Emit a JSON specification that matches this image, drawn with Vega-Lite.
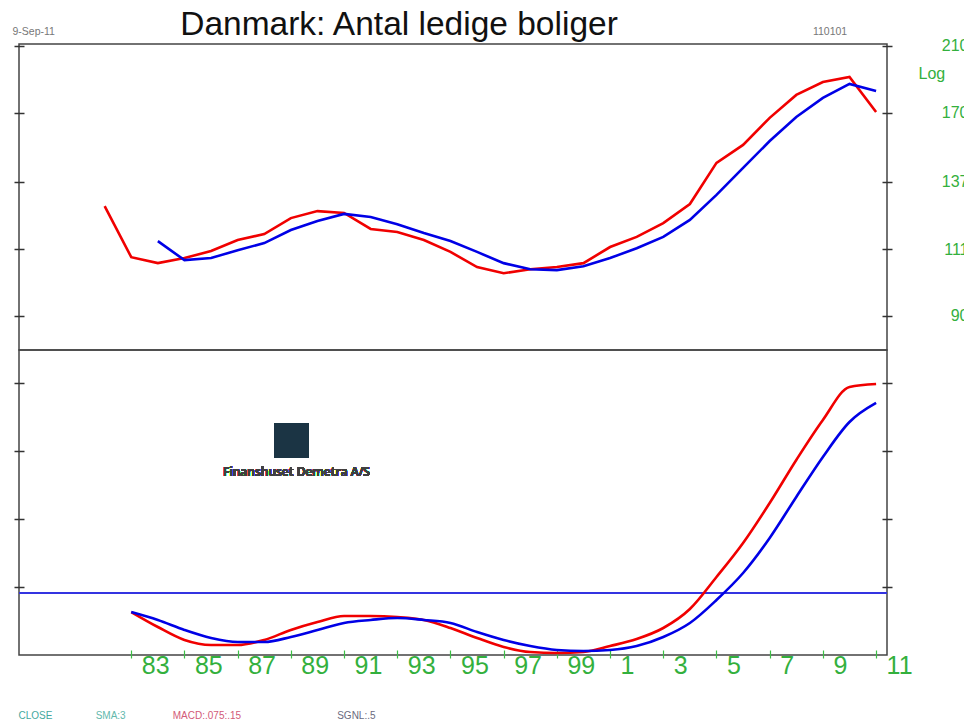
{
  "$schema": "https://vega.github.io/schema/vega-lite/v6.json",
  "padding": {"left": 11, "top": 6, "right": 0, "bottom": 0},
  "background": "white",
  "config": {
    "view": {"stroke": "#444", "strokeWidth": 1.5},
    "font": "Liberation Sans",
    "axis": {"grid": false, "domain": false, "labelFlush": false, "labelOverlap": false, "labelBound": false}
  },
  "datasets": {
    "top": [
      {"year": 1982, "s": "CLOSE", "v": 127.0}, {"year": 1983, "s": "CLOSE", "v": 108.2}, {"year": 1984, "s": "CLOSE", "v": 106.2},
      {"year": 1985, "s": "CLOSE", "v": 107.9}, {"year": 1986, "s": "CLOSE", "v": 110.3}, {"year": 1987, "s": "CLOSE", "v": 114.2},
      {"year": 1988, "s": "CLOSE", "v": 116.3}, {"year": 1989, "s": "CLOSE", "v": 122.3}, {"year": 1990, "s": "CLOSE", "v": 125.0},
      {"year": 1991, "s": "CLOSE", "v": 124.3}, {"year": 1992, "s": "CLOSE", "v": 118.2}, {"year": 1993, "s": "CLOSE", "v": 117.1},
      {"year": 1994, "s": "CLOSE", "v": 114.2}, {"year": 1995, "s": "CLOSE", "v": 110.0}, {"year": 1996, "s": "CLOSE", "v": 104.9},
      {"year": 1997, "s": "CLOSE", "v": 102.9}, {"year": 1998, "s": "CLOSE", "v": 104.2}, {"year": 1999, "s": "CLOSE", "v": 104.9},
      {"year": 2000, "s": "CLOSE", "v": 106.2}, {"year": 2001, "s": "CLOSE", "v": 111.7}, {"year": 2002, "s": "CLOSE", "v": 115.3},
      {"year": 2003, "s": "CLOSE", "v": 120.4}, {"year": 2004, "s": "CLOSE", "v": 127.8}, {"year": 2005, "s": "CLOSE", "v": 145.4},
      {"year": 2006, "s": "CLOSE", "v": 153.8}, {"year": 2007, "s": "CLOSE", "v": 167.4}, {"year": 2008, "s": "CLOSE", "v": 179.9},
      {"year": 2009, "s": "CLOSE", "v": 187.3}, {"year": 2010, "s": "CLOSE", "v": 190.3}, {"year": 2011, "s": "CLOSE", "v": 170.5},
      {"year": 1984, "s": "SMA", "v": 113.8}, {"year": 1985, "s": "SMA", "v": 107.2}, {"year": 1986, "s": "SMA", "v": 107.9},
      {"year": 1987, "s": "SMA", "v": 110.6}, {"year": 1988, "s": "SMA", "v": 113.1}, {"year": 1989, "s": "SMA", "v": 117.8},
      {"year": 1990, "s": "SMA", "v": 121.2}, {"year": 1991, "s": "SMA", "v": 123.9}, {"year": 1992, "s": "SMA", "v": 122.7},
      {"year": 1993, "s": "SMA", "v": 120.0}, {"year": 1994, "s": "SMA", "v": 116.7}, {"year": 1995, "s": "SMA", "v": 113.8},
      {"year": 1996, "s": "SMA", "v": 110.0}, {"year": 1997, "s": "SMA", "v": 106.2}, {"year": 1998, "s": "SMA", "v": 104.2},
      {"year": 1999, "s": "SMA", "v": 103.9}, {"year": 2000, "s": "SMA", "v": 105.2}, {"year": 2001, "s": "SMA", "v": 107.9},
      {"year": 2002, "s": "SMA", "v": 111.3}, {"year": 2003, "s": "SMA", "v": 115.3}, {"year": 2004, "s": "SMA", "v": 121.6},
      {"year": 2005, "s": "SMA", "v": 131.5}, {"year": 2006, "s": "SMA", "v": 143.1}, {"year": 2007, "s": "SMA", "v": 155.7},
      {"year": 2008, "s": "SMA", "v": 167.9}, {"year": 2009, "s": "SMA", "v": 178.2}, {"year": 2010, "s": "SMA", "v": 186.2},
      {"year": 2011, "s": "SMA", "v": 182.1}
    ],
    "bottom": [
      {"year": 1983, "s": "MACD", "v": 0.632}, {"year": 1984, "s": "MACD", "v": 0.412}, {"year": 1985, "s": "MACD", "v": 0.221},
      {"year": 1986, "s": "MACD", "v": 0.147}, {"year": 1987, "s": "MACD", "v": 0.147}, {"year": 1988, "s": "MACD", "v": 0.221},
      {"year": 1989, "s": "MACD", "v": 0.368}, {"year": 1990, "s": "MACD", "v": 0.485}, {"year": 1991, "s": "MACD", "v": 0.574},
      {"year": 1992, "s": "MACD", "v": 0.574}, {"year": 1993, "s": "MACD", "v": 0.559}, {"year": 1994, "s": "MACD", "v": 0.515},
      {"year": 1995, "s": "MACD", "v": 0.397}, {"year": 1996, "s": "MACD", "v": 0.25}, {"year": 1997, "s": "MACD", "v": 0.118},
      {"year": 1998, "s": "MACD", "v": 0.044}, {"year": 1999, "s": "MACD", "v": 0.029}, {"year": 2000, "s": "MACD", "v": 0.044},
      {"year": 2001, "s": "MACD", "v": 0.132}, {"year": 2002, "s": "MACD", "v": 0.235}, {"year": 2003, "s": "MACD", "v": 0.397},
      {"year": 2004, "s": "MACD", "v": 0.676}, {"year": 2005, "s": "MACD", "v": 1.147}, {"year": 2006, "s": "MACD", "v": 1.647},
      {"year": 2007, "s": "MACD", "v": 2.235}, {"year": 2008, "s": "MACD", "v": 2.868}, {"year": 2009, "s": "MACD", "v": 3.456},
      {"year": 2010, "s": "MACD", "v": 3.941}, {"year": 2011, "s": "MACD", "v": 3.985},
      {"year": 1983, "s": "SGNL", "v": 0.632}, {"year": 1984, "s": "SGNL", "v": 0.515}, {"year": 1985, "s": "SGNL", "v": 0.368},
      {"year": 1986, "s": "SGNL", "v": 0.25}, {"year": 1987, "s": "SGNL", "v": 0.191}, {"year": 1988, "s": "SGNL", "v": 0.191},
      {"year": 1989, "s": "SGNL", "v": 0.265}, {"year": 1990, "s": "SGNL", "v": 0.368}, {"year": 1991, "s": "SGNL", "v": 0.471},
      {"year": 1992, "s": "SGNL", "v": 0.515}, {"year": 1993, "s": "SGNL", "v": 0.544}, {"year": 1994, "s": "SGNL", "v": 0.515},
      {"year": 1995, "s": "SGNL", "v": 0.471}, {"year": 1996, "s": "SGNL", "v": 0.338}, {"year": 1997, "s": "SGNL", "v": 0.221},
      {"year": 1998, "s": "SGNL", "v": 0.132}, {"year": 1999, "s": "SGNL", "v": 0.074}, {"year": 2000, "s": "SGNL", "v": 0.059},
      {"year": 2001, "s": "SGNL", "v": 0.074}, {"year": 2002, "s": "SGNL", "v": 0.132}, {"year": 2003, "s": "SGNL", "v": 0.265},
      {"year": 2004, "s": "SGNL", "v": 0.471}, {"year": 2005, "s": "SGNL", "v": 0.809}, {"year": 2006, "s": "SGNL", "v": 1.206},
      {"year": 2007, "s": "SGNL", "v": 1.721}, {"year": 2008, "s": "SGNL", "v": 2.324}, {"year": 2009, "s": "SGNL", "v": 2.912},
      {"year": 2010, "s": "SGNL", "v": 3.426}, {"year": 2011, "s": "SGNL", "v": 3.706}
    ]
  },
  "spacing": 0,
  "bounds": "flush",
  "vconcat": [
    {
      "width": 868,
      "height": 306,
      "title": {"text": "Danmark: Antal ledige boliger", "fontSize": 33.5, "fontWeight": "normal", "color": "#111", "anchor": "middle", "frame": "group", "dx": -54, "dy": 42, "offset": 0, "baseline": "alphabetic"},
      "data": {"name": "top"},
      "layer": [
        {
          "mark": {"type": "line", "strokeWidth": 2.6},
          "encoding": {
            "x": {"field": "year", "type": "quantitative", "scale": {"domain": [1978.78, 2011.41], "nice": false, "zero": false},
              "axis": {"orient": "top", "values": [1978.78, 2008.87], "labelExpr": "datum.value < 1990 ? '9-Sep-11' : '110101'", "ticks": false, "tickSize": 0, "labelFontSize": 10.5, "labelColor": "#777", "labelPadding": 8, "labelAlign": "left", "labelOffset": -7, "labelBaseline": "bottom", "title": null}},
            "y": {"field": "v", "type": "quantitative", "scale": {"type": "log", "domain": [80.9, 211], "nice": false, "zero": false},
              "axis": {"orient": "left", "values": [90, 111, 137, 170, 210], "labels": false, "tickSize": 10, "offset": -5, "tickColor": "#333", "tickWidth": 1.5, "title": null}},
            "color": {"field": "s", "type": "nominal", "scale": {"domain": ["CLOSE", "SMA"], "range": ["#f00000", "#0000e6"]}, "legend": null}
          }
        },
        {
          "mark": {"type": "point", "opacity": 0},
          "encoding": {
            "x": {"field": "year", "type": "quantitative", "axis": null},
            "y": {"field": "v", "type": "quantitative",
              "axis": {"orient": "right", "values": [90, 111, 137, 170, 210], "tickSize": 10, "offset": -5, "tickColor": "#333", "tickWidth": 1.5,
                "labelColor": "#33b03d", "labelFontSize": 16, "labelAlign": "right", "labelPadding": 76, "labelBaseline": "middle",
                "title": "Log", "titleAngle": 0, "titleColor": "#33b03d", "titleFontSize": 16, "titleFontWeight": "normal", "titleX": 36, "titleY": 29, "titleAlign": "left", "titleBaseline": "middle"}}
          }
        }
      ],
      "resolve": {"axis": {"x": "independent", "y": "independent"}}
    },
    {
      "width": 868,
      "height": 305,
      "data": {"name": "bottom"},
      "layer": [
        {
          "mark": {"type": "rule", "color": "#3535e0", "strokeWidth": 1.3},
          "encoding": {"y": {"datum": 0.912, "type": "quantitative", "axis": null}}
        },
        {
          "mark": {"type": "line", "strokeWidth": 2.6, "interpolate": "monotone"},
          "encoding": {
            "x": {"field": "year", "type": "quantitative", "scale": {"domain": [1978.78, 2011.41], "nice": false, "zero": false},
              "axis": {"orient": "bottom", "values": [1983, 1985, 1987, 1989, 1991, 1993, 1995, 1997, 1999, 2001, 2003, 2005, 2007, 2009, 2011],
                "labelExpr": "'' + (datum.value % 100)", "offset": -5, "tickSize": 8, "tickColor": "#3cbf46", "tickWidth": 1.2,
                "labelColor": "#33b03d", "labelFontSize": 25, "labelAlign": "left", "labelOffset": 10, "labelBaseline": "top", "labelPadding": -5, "title": null}},
            "y": {"field": "v", "type": "quantitative", "scale": {"domain": [0, 4.485], "nice": false, "zero": false},
              "axis": {"orient": "left", "values": [1, 2, 3, 4], "labels": false, "tickSize": 10, "offset": -5, "tickColor": "#333", "tickWidth": 1.5, "title": null}},
            "color": {"field": "s", "type": "nominal", "scale": {"domain": ["MACD", "SGNL"], "range": ["#f00000", "#0000e6"]}, "legend": null}
          }
        },
        {
          "mark": {"type": "point", "opacity": 0},
          "encoding": {
            "x": {"field": "year", "type": "quantitative",
              "axis": {"orient": "bottom", "values": [1978.78, 1981.68, 1984.58, 1990.76],
                "labelExpr": "datum.value < 1980 ? 'CLOSE' : datum.value < 1983 ? 'SMA:3' : datum.value < 1986 ? 'MACD:.075:.15' : 'SGNL:.5'",
                "ticks": false, "tickSize": 0, "labelFontSize": 10, "labelAlign": "left", "labelOffset": -1, "labelBaseline": "middle", "labelPadding": 60,
                "labelColor": {"condition": [{"test": "datum.value < 1980", "value": "#45a8a0"}, {"test": "datum.value < 1983", "value": "#62b8ac"}, {"test": "datum.value < 1986", "value": "#d25a78"}], "value": "#6a6a80"},
                "title": null}},
            "y": {"field": "v", "type": "quantitative",
              "axis": {"orient": "right", "values": [1, 2, 3, 4], "labels": false, "tickSize": 10, "offset": -5, "tickColor": "#333", "tickWidth": 1.5, "title": null}}
          }
        },
        {
          "mark": {"type": "square", "size": 1150, "color": "#1b3444", "opacity": 1},
          "encoding": {"x": {"datum": 1989.03, "type": "quantitative", "axis": null}, "y": {"datum": 3.15, "type": "quantitative", "axis": null}}
        },
        {
          "mark": {"type": "text", "text": "Finanshuset Demetra A/S", "fontSize": 12, "fontWeight": 600, "font": "Open Sans", "color": "#404040", "align": "center", "baseline": "middle"},
          "encoding": {"x": {"datum": 1989.21, "type": "quantitative", "axis": null}, "y": {"datum": 2.69, "type": "quantitative", "axis": null}}
        }
      ],
      "resolve": {"axis": {"x": "independent", "y": "independent"}}
    }
  ]
}
